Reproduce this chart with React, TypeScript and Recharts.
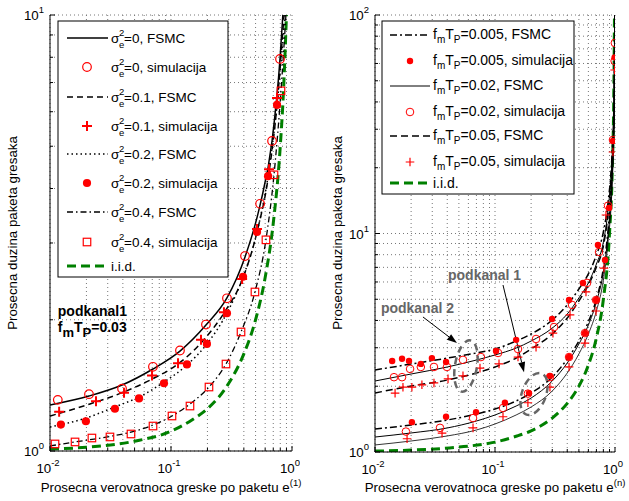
import React from "react";
import {
  ComposedChart,
  Line,
  Scatter,
  XAxis,
  YAxis,
  CartesianGrid,
  ReferenceDot,
  ReferenceLine,
} from "recharts";

const FONT = '"Liberation Sans", Arial, Helvetica, sans-serif';
const RED = "#ff0000";
const GREEN = "#008000";
const NOTE = "#666666";

// ---- ticks (log axes, MATLAB style minor ticks) ----
const xTicks = [0.01, 0.02, 0.03, 0.04, 0.05, 0.06, 0.07, 0.08, 0.09, 0.1, 0.2, 0.3, 0.4, 0.5, 0.6, 0.7, 0.8, 0.9, 1];
const leftYTicks = [1, 2, 3, 4, 5, 6, 7, 8, 9, 10];
const rightYTicks = [1, 2, 3, 4, 5, 6, 7, 8, 9, 10, 20, 30, 40, 50, 60, 70, 80, 90, 100];

// ---- left panel: podkanal1, fmTP = 0.03 ----
const sig0Fsmc = [[0.01, 1.275], [0.021, 1.337], [0.0394, 1.417], [0.0709, 1.542], [0.1186, 1.695], [0.1945, 1.945], [0.29, 2.244], [0.409, 2.786], [0.545, 3.667], [0.684, 5.14], [0.796, 7.93], [0.84, 10]];
const sig0Sim = [[0.0116, 1.31], [0.021, 1.35], [0.0394, 1.39], [0.0709, 1.56], [0.1186, 1.7], [0.1945, 1.95], [0.29, 2.24], [0.409, 2.8], [0.545, 3.69], [0.684, 5.14], [0.796, 7.93]];
const sig01Fsmc = [[0.01, 1.203], [0.0214, 1.282], [0.0409, 1.366], [0.0697, 1.462], [0.1143, 1.583], [0.177, 1.769], [0.274, 2.073], [0.387, 2.467], [0.514, 3.18], [0.646, 4.36], [0.752, 6.22], [0.859, 10]];
const sig01Sim = [[0.0119, 1.23], [0.024, 1.3], [0.0409, 1.36], [0.0697, 1.49], [0.1143, 1.59], [0.177, 1.8], [0.274, 2.08], [0.387, 2.48], [0.514, 3.23], [0.646, 4.43], [0.752, 6.45]];
const sig02Fsmc = [[0.01, 1.135], [0.0198, 1.19], [0.0344, 1.262], [0.0544, 1.33], [0.0875, 1.439], [0.1355, 1.575], [0.198, 1.76], [0.29, 2.073], [0.394, 2.506], [0.514, 3.18], [0.634, 4.27], [0.752, 6.22], [0.875, 10]];
const sig02Sim = [[0.0123, 1.15], [0.0198, 1.17], [0.0344, 1.25], [0.0544, 1.32], [0.0875, 1.43], [0.1355, 1.58], [0.198, 1.76], [0.29, 2.07], [0.394, 2.51], [0.514, 3.18], [0.634, 4.27], [0.752, 6.22]];
const sig04Fsmc = [[0.01, 1.027], [0.0161, 1.049], [0.0222, 1.063], [0.0313, 1.08], [0.0467, 1.105], [0.071, 1.147], [0.1019, 1.203], [0.1435, 1.282], [0.206, 1.402], [0.2847, 1.583], [0.379, 1.875], [0.494, 2.316], [0.609, 3.05], [0.71, 4.3], [0.811, 6.7], [0.891, 10]];
const sig04Sim = [[0.011, 1.038], [0.0161, 1.049], [0.0222, 1.071], [0.0313, 1.077], [0.0467, 1.094], [0.071, 1.141], [0.1019, 1.203], [0.1435, 1.268], [0.206, 1.402], [0.2847, 1.583], [0.379, 1.875], [0.494, 2.316], [0.609, 3.05], [0.71, 4.3], [0.811, 6.7]];
const iidLeft = [[0.01, 1.01], [0.02, 1.02], [0.05, 1.053], [0.1, 1.11], [0.15, 1.18], [0.2, 1.25], [0.3, 1.43], [0.4, 1.67], [0.5, 2.0], [0.6, 2.5], [0.7, 3.33], [0.8, 5.0], [0.85, 6.67], [0.9, 10]];

// ---- right panel: podkanal 2 (upper group) and podkanal 1 (lower group) ----
const rightLineX = [0.01, 0.02, 0.04, 0.07, 0.1, 0.15, 0.2, 0.3, 0.4, 0.5, 0.6, 0.7, 0.8, 0.875, 0.944, 0.981, 0.998];
const sub2Fsmc005Y = [2.373, 2.527, 2.69, 2.84, 2.96, 3.22, 3.467, 4.02, 4.71, 5.57, 6.53, 7.97, 10.16, 13.9, 22.9, 40.8, 100];
const sub2Fsmc002Y = [2.113, 2.275, 2.449, 2.636, 2.78, 2.99, 3.22, 3.69, 4.28, 5.07, 5.94, 7.25, 9.14, 12.8, 21.7, 36.7, 100];
const sub2Fsmc005bY = [1.862, 2.005, 2.135, 2.299, 2.449, 2.69, 2.96, 3.467, 4.105, 4.91, 5.81, 7.03, 8.77, 12.3, 20.6, 34.9, 100];
const sub1Fsmc005Y = [1.274, 1.329, 1.401, 1.492, 1.573, 1.712, 1.862, 2.204, 2.665, 3.22, 3.94, 5.01, 6.95, 10.38, 18.5, 34.9, 100];
const sub1Fsmc002Y = [1.171, 1.222, 1.288, 1.386, 1.477, 1.623, 1.766, 2.113, 2.555, 3.12, 3.81, 4.86, 6.67, 9.84, 17.6, 33.0, 100];
const sub1Fsmc005bY = [1.077, 1.123, 1.184, 1.261, 1.343, 1.477, 1.607, 1.902, 2.299, 2.81, 3.467, 4.42, 6.13, 9.14, 16.2, 31.4, 100];

const sub2Sim005 = [[0.0139, 2.61], [0.0168, 2.67], [0.0192, 2.61], [0.0241, 2.53], [0.0298, 2.69], [0.0391, 2.58], [0.102, 2.9], [0.15, 3.26], [0.299, 4.06], [0.414, 4.96], [0.541, 5.94], [0.721, 8.86], [0.891, 13.1], [0.962, 26.5], [0.993, 64]];
const sub2Sim002 = [[0.0144, 2.2], [0.0168, 2.2], [0.0196, 2.4], [0.0241, 2.45], [0.031, 2.45], [0.0398, 2.45], [0.0541, 2.64], [0.0763, 2.72], [0.106, 2.84], [0.1555, 2.96], [0.2198, 3.29], [0.3105, 3.73], [0.4385, 4.71], [0.585, 5.94], [0.736, 8.23], [0.875, 13.4], [0.962, 26.8], [0.993, 61.6], [0.997, 74.5]];
const sub2Sim005b = [[0.0147, 1.86], [0.0171, 1.98], [0.0203, 1.98], [0.0246, 2.03], [0.031, 2.07], [0.0406, 2.16], [0.0541, 2.23], [0.075, 2.42], [0.108, 2.53], [0.1555, 2.72], [0.2198, 3.02], [0.304, 3.5], [0.422, 4.24], [0.573, 5.4], [0.841, 12.15], [0.962, 23.6], [0.993, 56]];
const sub1Sim005 = [[0.0203, 1.37], [0.0391, 1.45], [0.0695, 1.52], [0.121, 1.68], [0.192, 1.86], [0.287, 2.23], [0.414, 2.72], [0.562, 3.5], [0.695, 4.96], [0.826, 7.56]];
const sub1Sim002 = [[0.0181, 1.24], [0.0348, 1.29], [0.0656, 1.43], [0.1166, 1.59], [0.188, 1.85], [0.287, 2.2], [0.414, 2.72], [0.562, 3.5], [0.695, 4.96]];
const sub1Sim005b = [[0.0185, 1.15], [0.0362, 1.22], [0.0656, 1.29], [0.1166, 1.45], [0.188, 1.68], [0.287, 1.98], [0.414, 2.45], [0.562, 3.15], [0.695, 4.42], [0.809, 6.95]];
const iidRight = [[0.01, 1.01], [0.02, 1.02], [0.05, 1.053], [0.1, 1.11], [0.15, 1.18], [0.2, 1.25], [0.3, 1.43], [0.4, 1.67], [0.5, 2.0], [0.6, 2.5], [0.7, 3.33], [0.8, 5.0], [0.9, 10], [0.95, 20], [0.98, 50], [0.99, 100]];

const leftLegendLabels = ["=0, FSMC", "=0, simulacija", "=0.1, FSMC", "=0.1, simulacija", "=0.2, FSMC", "=0.2, simulacija", "=0.4, FSMC", "=0.4, simulacija", "i.i.d."];
const rightLegendLabels = ["=0.005, FSMC", "=0.005, simulacija", "=0.02, FSMC", "=0.02, simulacija", "=0.05, FSMC", "=0.05, simulacija", "i.i.d."];

const toPts = (a: number[][]) => a.map(([x, y]) => ({ x, y }));
const zipPts = (xs: number[], ys: number[]) => xs.map((x, i) => ({ x, y: ys[i] }));

// line styles
const LS: Record<string, any> = {
  solid: { stroke: "#000", strokeWidth: 1.5 },
  dashed: { stroke: "#000", strokeWidth: 1.5, strokeDasharray: "6 4" },
  dotted: { stroke: "#000", strokeWidth: 1.5, strokeDasharray: "1.5 3" },
  dashdot: { stroke: "#000", strokeWidth: 1.3, strokeDasharray: "6 3 1.5 3" },
  iid: { stroke: GREEN, strokeWidth: 3, strokeDasharray: "9 5" },
  rDashdot: { stroke: "#000", strokeWidth: 1.5, strokeDasharray: "7 3 2 3" },
  rSolid: { stroke: "#000", strokeWidth: 1 },
  rDashed: { stroke: "#000", strokeWidth: 1.5, strokeDasharray: "7 4" },
  rThin: { stroke: "#000", strokeWidth: 0.8 },
};

// marker shapes
const openCircle = (r: number, w: number) => (p: any) => (
  <circle cx={p.cx} cy={p.cy} r={r} fill="none" stroke={RED} strokeWidth={w} />
);
const dot = (r: number) => (p: any) => <circle cx={p.cx} cy={p.cy} r={r} fill={RED} stroke="none" />;
const plus = (a: number, w: number) => (p: any) => (
  <path d={`M${p.cx - a},${p.cy}H${p.cx + a}M${p.cx},${p.cy - a}V${p.cy + a}`} stroke={RED} strokeWidth={w} fill="none" />
);
const square = (s: number) => (p: any) => (
  <rect x={p.cx - s / 2} y={p.cy - s / 2} width={s} height={s} fill="none" stroke={RED} strokeWidth={1.2} />
);

const lCircle = openCircle(4.3, 1.2);
const lPlus = plus(5, 2);
const lDot = dot(4.1);
const lSquare = square(7.5);
const rCircle = openCircle(3.8, 1);
const rDot = dot(3.2);
const rPlus = plus(4.3, 1.2);

const logOf = (v: number) => Math.round(Math.log10(v));
const isMajor = (v: number) => Math.abs(Math.log10(v) - Math.round(Math.log10(v))) < 1e-6;

function BottomTick({ x, y, payload }: any) {
  const v = payload.value;
  const major = isMajor(v);
  return (
    <g>
      <line x1={x} x2={x} y1={y} y2={y - (major ? 5 : 3)} stroke="#000" />
      {major && (
        <text x={x - 2} y={y + 22} textAnchor="middle" fontFamily={FONT} fontSize={13.3} fill="#000">
          10<tspan dy={-7} fontSize={9.5}>{logOf(v)}</tspan>
        </text>
      )}
    </g>
  );
}

function TopTick({ x, y, payload }: any) {
  const major = isMajor(payload.value);
  return <line x1={x} x2={x} y1={y} y2={y + (major ? 5 : 3)} stroke="#000" />;
}

function LeftTick({ x, y, payload }: any) {
  const v = payload.value;
  const major = isMajor(v);
  return (
    <g>
      <line x1={x} x2={x + (major ? 5 : 3)} y1={y} y2={y} stroke="#000" />
      {major && (
        <text x={x - 6} y={y + 5} textAnchor="end" fontFamily={FONT} fontSize={13.3} fill="#000">
          10<tspan dy={-7} fontSize={9.5}>{logOf(v)}</tspan>
        </text>
      )}
    </g>
  );
}

function RightTick({ x, y, payload }: any) {
  const major = isMajor(payload.value);
  return <line x1={x} x2={x - (major ? 5 : 3)} y1={y} y2={y} stroke="#000" />;
}

const xCommon: any = {
  dataKey: "x",
  type: "number",
  scale: "log",
  domain: [0.01, 1],
  ticks: xTicks,
  interval: 0,
  allowDataOverflow: true,
  tickSize: 0,
  tickMargin: 0,
  tickLine: false,
  axisLine: { stroke: "#000", strokeWidth: 1 },
};

const yCommon = (ticks: number[], domain: number[]): any => ({
  dataKey: "y",
  type: "number",
  scale: "log",
  domain,
  ticks,
  interval: 0,
  allowDataOverflow: true,
  tickSize: 0,
  tickMargin: 0,
  tickLine: false,
  axisLine: { stroke: "#000", strokeWidth: 1 },
});

const noteText = (children: React.ReactNode, color: string) => (p: any) => (
  <text x={p.cx} y={p.cy} fontFamily={FONT} fontSize={14} fontWeight="bold" fill={color}>
    {children}
  </text>
);

const ellipseShape = (rx: number, ry: number, rot: number) => (p: any) => (
  <ellipse
    cx={p.cx}
    cy={p.cy}
    rx={rx}
    ry={ry}
    transform={`rotate(${rot} ${p.cx} ${p.cy})`}
    fill="none"
    stroke={NOTE}
    strokeWidth={2.5}
    strokeDasharray="7 5"
  />
);

function Arrow(p: any) {
  const { x1, y1, x2, y2 } = p;
  const a = Math.atan2(y2 - y1, x2 - x1);
  const len = 10;
  const w = 3.5;
  const bx = x2 - len * Math.cos(a);
  const by = y2 - len * Math.sin(a);
  const pts = `${x2},${y2} ${bx + w * Math.sin(a)},${by - w * Math.cos(a)} ${bx - w * Math.sin(a)},${by + w * Math.cos(a)}`;
  return (
    <g>
      <line x1={x1} y1={y1} x2={bx} y2={by} stroke="#000" strokeWidth={1} />
      <polygon points={pts} fill="#000" />
    </g>
  );
}

function LeftPanel() {
  const legendY = [38, 67, 97, 126, 154, 183, 212, 242, 266];
  const samples: ((y: number) => React.ReactNode)[] = [
    (y) => <line x1={67} x2={108} y1={y} y2={y} {...LS.solid} />,
    (y) => lCircle({ cx: 87, cy: y }),
    (y) => <line x1={67} x2={108} y1={y} y2={y} {...LS.dashed} />,
    (y) => lPlus({ cx: 87, cy: y }),
    (y) => <line x1={67} x2={108} y1={y} y2={y} {...LS.dotted} />,
    (y) => lDot({ cx: 87, cy: y }),
    (y) => <line x1={67} x2={108} y1={y} y2={y} {...LS.dashdot} />,
    (y) => lSquare({ cx: 87, cy: y }),
    (y) => <line x1={67} x2={108} y1={y} y2={y} {...LS.iid} />,
  ];
  return (
    <div style={{ position: "absolute", left: 0, top: 0, width: 320, height: 501 }}>
      <ComposedChart width={300} height={501} margin={{ top: 15, right: 8, bottom: 0, left: 0 }}>
        <CartesianGrid stroke="#777" strokeDasharray="1 3" />
        <XAxis {...xCommon} height={50} tick={<BottomTick />} />
        <XAxis {...xCommon} xAxisId="top" orientation="top" height={0} tick={<TopTick />} />
        <YAxis {...yCommon(leftYTicks, [1, 10])} width={50} tick={<LeftTick />} />
        <YAxis {...yCommon(leftYTicks, [1, 10])} yAxisId="right" orientation="right" width={0} tick={<RightTick />} />
        <Line data={toPts(iidLeft)} dataKey="y" type="monotone" {...LS.iid} dot={false} activeDot={false} isAnimationActive={false} />
        <Line data={toPts(sig04Fsmc)} dataKey="y" type="monotone" {...LS.dashdot} dot={false} activeDot={false} isAnimationActive={false} />
        <Line data={toPts(sig02Fsmc)} dataKey="y" type="monotone" {...LS.dotted} dot={false} activeDot={false} isAnimationActive={false} />
        <Line data={toPts(sig01Fsmc)} dataKey="y" type="monotone" {...LS.dashed} dot={false} activeDot={false} isAnimationActive={false} />
        <Line data={toPts(sig0Fsmc)} dataKey="y" type="monotone" {...LS.solid} dot={false} activeDot={false} isAnimationActive={false} />
        <Scatter data={toPts(sig04Sim)} shape={lSquare} isAnimationActive={false} />
        <Scatter data={toPts(sig02Sim)} shape={lDot} isAnimationActive={false} />
        <Scatter data={toPts(sig01Sim)} shape={lPlus} isAnimationActive={false} />
        <Scatter data={toPts(sig0Sim)} shape={lCircle} isAnimationActive={false} />
        <ReferenceDot x={0.0116} y={2.04} r={0} shape={noteText("podkanal1", "#000")} />
        <ReferenceDot
          x={0.0116}
          y={1.875}
          r={0}
          shape={noteText(
            <>
              f<tspan dy={5} fontSize={13}>m</tspan>
              <tspan dy={-5}>T</tspan>
              <tspan dy={5} fontSize={13}>P</tspan>
              <tspan dy={-5}>=0.03</tspan>
            </>,
            "#000"
          )}
        />
      </ComposedChart>
      <svg width={320} height={501} style={{ position: "absolute", left: 0, top: 0, pointerEvents: "none" }}>
        <g fontFamily={FONT} fill="#000">
          <text transform="translate(17,233) rotate(-90)" textAnchor="middle" fontSize={13.3}>
            Prosecna duzina paketa gresaka
          </text>
          <text x={171} y={492} textAnchor="middle" fontSize={13.3}>
            Prosecna verovatnoca greske po paketu e<tspan dy={-6} fontSize={9.5}>(1)</tspan>
          </text>
          <rect x={58} y={21} width={170} height={256} fill="#fff" stroke="#000" strokeWidth={1} />
          {legendY.map((y, i) => (
            <g key={i}>
              {samples[i](y)}
              {i < 8 ? (
                <>
                  <text x={111} y={y + 5} fontSize={13.5}>σ</text>
                  <text x={119} y={y - 2} fontSize={9.5}>2</text>
                  <text x={119} y={y + 10} fontSize={9.5}>e</text>
                  <text x={124} y={y + 5} fontSize={13.5}>{leftLegendLabels[i]}</text>
                </>
              ) : (
                <text x={111} y={y + 5} fontSize={13.5}>{leftLegendLabels[i]}</text>
              )}
            </g>
          ))}
        </g>
      </svg>
    </div>
  );
}

function RightPanel() {
  const legendY = [35, 61, 86, 112, 136, 162, 183];
  const samples: ((y: number) => React.ReactNode)[] = [
    (y) => <line x1={70} x2={110} y1={y} y2={y} {...LS.rDashdot} />,
    (y) => rDot({ cx: 90, cy: y }),
    (y) => <line x1={70} x2={110} y1={y} y2={y} {...LS.rSolid} />,
    (y) => rCircle({ cx: 90, cy: y }),
    (y) => <line x1={70} x2={110} y1={y} y2={y} {...LS.rDashed} />,
    (y) => rPlus({ cx: 90, cy: y }),
    (y) => <line x1={70} x2={110} y1={y} y2={y} {...LS.iid} />,
  ];
  return (
    <div style={{ position: "absolute", left: 320, top: 0, width: 309, height: 501 }}>
      <ComposedChart width={309} height={501} margin={{ top: 15, right: 14, bottom: 0, left: 0 }}>
        <CartesianGrid stroke="#777" strokeDasharray="1 3" />
        <XAxis {...xCommon} height={49} tick={<BottomTick />} />
        <XAxis {...xCommon} xAxisId="top" orientation="top" height={0} tick={<TopTick />} />
        <YAxis {...yCommon(rightYTicks, [1, 100])} width={55} tick={<LeftTick />} />
        <YAxis {...yCommon(rightYTicks, [1, 100])} yAxisId="right" orientation="right" width={0} tick={<RightTick />} />
        <Line data={toPts(iidRight)} dataKey="y" type="monotone" {...LS.iid} dot={false} activeDot={false} isAnimationActive={false} />
        <Line data={zipPts(rightLineX, sub1Fsmc005bY)} dataKey="y" type="monotone" {...LS.rThin} dot={false} activeDot={false} isAnimationActive={false} />
        <Line data={zipPts(rightLineX, sub1Fsmc002Y)} dataKey="y" type="monotone" {...LS.rSolid} dot={false} activeDot={false} isAnimationActive={false} />
        <Line data={zipPts(rightLineX, sub1Fsmc005Y)} dataKey="y" type="monotone" {...LS.rDashdot} dot={false} activeDot={false} isAnimationActive={false} />
        <Line data={zipPts(rightLineX, sub2Fsmc005bY)} dataKey="y" type="monotone" {...LS.rDashed} dot={false} activeDot={false} isAnimationActive={false} />
        <Line data={zipPts(rightLineX, sub2Fsmc002Y)} dataKey="y" type="monotone" {...LS.rSolid} dot={false} activeDot={false} isAnimationActive={false} />
        <Line data={zipPts(rightLineX, sub2Fsmc005Y)} dataKey="y" type="monotone" {...LS.rDashdot} dot={false} activeDot={false} isAnimationActive={false} />
        <Scatter data={toPts(sub1Sim005b)} shape={rPlus} isAnimationActive={false} />
        <Scatter data={toPts(sub1Sim002)} shape={rCircle} isAnimationActive={false} />
        <Scatter data={toPts(sub1Sim005)} shape={rDot} isAnimationActive={false} />
        <Scatter data={toPts(sub2Sim005b)} shape={rPlus} isAnimationActive={false} />
        <Scatter data={toPts(sub2Sim002)} shape={rCircle} isAnimationActive={false} />
        <Scatter data={toPts(sub2Sim005)} shape={rDot} isAnimationActive={false} />
        <ReferenceDot x={0.0573} y={2.475} r={0} shape={ellipseShape(11, 26, 10)} />
        <ReferenceDot x={0.2113} y={1.843} r={0} shape={ellipseShape(12, 22, 20)} />
        <ReferenceLine segment={[{ x: 0.0251, y: 4.15 }, { x: 0.0482, y: 3.154 }]} shape={Arrow} />
        <ReferenceLine segment={[{ x: 0.1166, y: 5.81 }, { x: 0.1745, y: 2.32 }]} shape={Arrow} />
        <ReferenceDot x={0.0406} y={6.13} r={0} shape={noteText("podkanal 1", NOTE)} />
        <ReferenceDot x={0.0112} y={4.33} r={0} shape={noteText("podkanal 2", NOTE)} />
      </ComposedChart>
      <svg width={309} height={501} style={{ position: "absolute", left: 0, top: 0, pointerEvents: "none", overflow: "visible" }}>
        <g fontFamily={FONT} fill="#000">
          <text transform="translate(22,233) rotate(-90)" textAnchor="middle" fontSize={13.3}>
            Prosecna duzina paketa gresaka
          </text>
          <text x={175} y={492} textAnchor="middle" fontSize={13.3}>
            Prosecna verovatnoca greske po paketu e<tspan dy={-6} fontSize={9.5}>(n)</tspan>
          </text>
          <rect x={62} y={21} width={192} height={173} fill="#fff" stroke="#000" strokeWidth={1} />
          {legendY.map((y, i) => (
            <g key={i}>
              {samples[i](y)}
              {i < 6 ? (
                <text x={113} y={y + 4} fontSize={14}>
                  f<tspan dy={4} fontSize={10}>m</tspan>
                  <tspan dy={-4}>T</tspan>
                  <tspan dy={4} fontSize={10}>P</tspan>
                  <tspan dy={-4}>{rightLegendLabels[i]}</tspan>
                </text>
              ) : (
                <text x={113} y={y + 5} fontSize={14}>{rightLegendLabels[i]}</text>
              )}
            </g>
          ))}
        </g>
      </svg>
    </div>
  );
}

export default function App() {
  return (
    <div style={{ position: "absolute", left: 0, top: 0, width: 629, height: 501, background: "#fff" }}>
      <LeftPanel />
      <RightPanel />
    </div>
  );
}
